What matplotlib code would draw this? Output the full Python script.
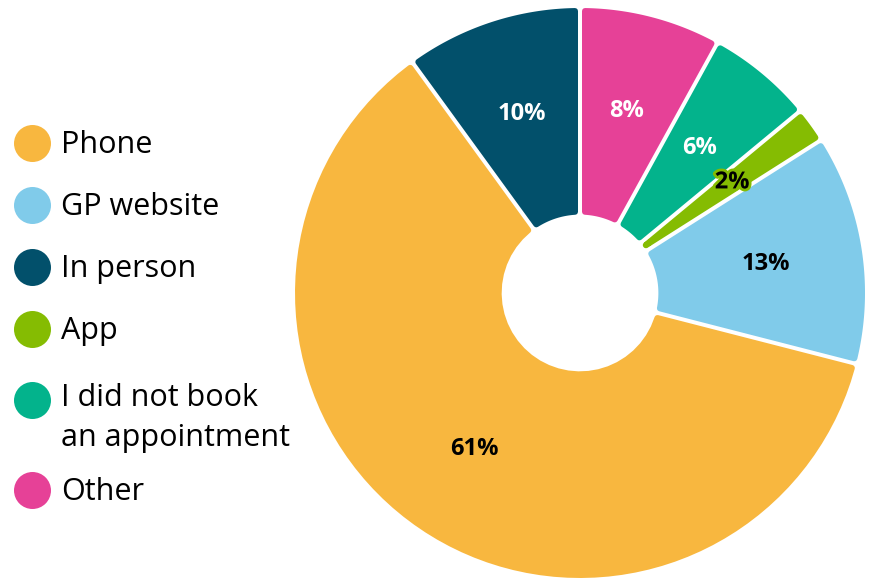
import numpy as np
import matplotlib.pyplot as plt
from matplotlib.patches import Polygon
import matplotlib.patheffects as pe

plt.rcParams['font.family'] = ['Open Sans', 'DejaVu Sans']

# legend order
labels = ['Phone', 'GP website', 'In person', 'App',
          'I did not book\nan appointment', 'Other']
shares = [61, 13, 10, 2, 6, 8]
colors = ['#F8B73F', '#80CBEA', '#02506B', '#85BC02', '#03B38C', '#E64197']
text_colors = ['black', 'black', 'white', 'black', 'white', 'white']

# clockwise order of the slices, starting at 12 o'clock
pie_order = [5, 4, 3, 1, 0, 2]

R_OUT = 1.0
R_IN = 0.275
PAD = 3 / 285      # corner rounding (data units, 285 px per unit)
HALF_GAP = 2 / 285


def rounded_wedge(t1, t2, color):
    # wedge between angles t1 < t2 (deg, ccw), shrunk then stroked round
    h = PAD + HALF_GAP
    ro, ri = R_OUT - PAD, R_IN + PAD
    do = np.degrees(np.arcsin(h / ro))
    di = np.degrees(np.arcsin(h / ri))
    a_out = np.radians(np.linspace(t1 + do, t2 - do, 80))
    pts = list(zip(ro * np.cos(a_out), ro * np.sin(a_out)))
    if t2 - di > t1 + di:
        a_in = np.radians(np.linspace(t2 - di, t1 + di, 30))
        pts += list(zip(ri * np.cos(a_in), ri * np.sin(a_in)))
    else:
        mid = np.radians((t1 + t2) / 2)
        rho = h / np.sin(np.radians((t2 - t1) / 2))
        pts.append((rho * np.cos(mid), rho * np.sin(mid)))
    lw = 2 * PAD * 285 * 72 / 100
    return Polygon(pts, closed=True, facecolor=color, edgecolor=color,
                   linewidth=lw, joinstyle='round')


fig = plt.figure(figsize=(8.72, 5.78), dpi=100)
ax = fig.add_axes([295 / 872, 0.0, 570 / 872, 570 / 578])
ax.set_xlim(-1, 1)
ax.set_ylim(-1, 1)
ax.set_aspect('equal')
ax.axis('off')

start = 0.0
for i in pie_order:
    end = start + shares[i]
    t2 = 90 - start * 3.6
    t1 = 90 - end * 3.6
    ax.add_patch(rounded_wedge(t1, t2, colors[i]))
    mid = np.radians((t1 + t2) / 2)
    txt = ax.text(0.66 * np.cos(mid), 0.66 * np.sin(mid), f'{shares[i]}%',
                  ha='center', va='center', fontsize=17, fontweight='bold',
                  color=text_colors[i])
    if i == 3:
        txt.set_path_effects([pe.withStroke(linewidth=4, foreground=colors[i])])
    start = end

# legend drawn by hand in pixel coordinates
lax = fig.add_axes([0, 0, 1, 1])
lax.set_xlim(0, 872)
lax.set_ylim(578, 0)
lax.axis('off')
row_y = [143, 205, 267, 329, 400, 490]
for lab, c, y in zip(labels, colors, row_y):
    lax.scatter([31.5], [y], s=(37 * 72 / 100) ** 2, color=c, linewidths=0)
    if '\n' in lab:
        lax.text(61, y - 17, lab, ha='left', va='top', fontsize=22,
                 linespacing=1.45)
    else:
        lax.text(61, y + 2, lab, ha='left', va='center', fontsize=22)

fig.savefig('out.png', dpi=100)
